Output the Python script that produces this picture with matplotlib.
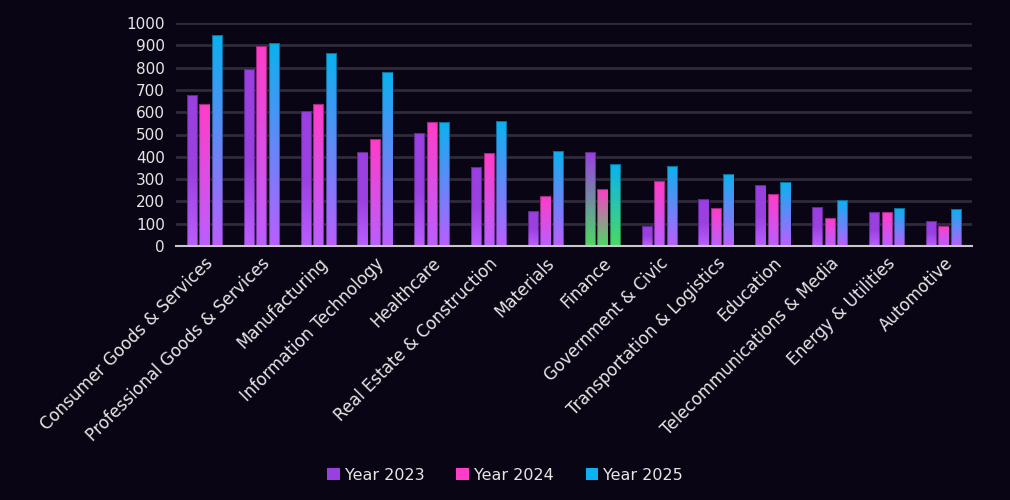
import numpy as np
import matplotlib.pyplot as plt
from matplotlib.colors import LinearSegmentedColormap
from matplotlib.patches import Patch

# data
categories = ["Consumer Goods & Services", "Professional Goods & Services", "Manufacturing",
              "Information Technology", "Healthcare", "Real Estate & Construction", "Materials",
              "Finance", "Government & Civic", "Transportation & Logistics", "Education",
              "Telecommunications & Media", "Energy & Utilities", "Automotive"]
year_2023 = [675, 792, 607, 420, 508, 355, 157, 421, 88, 212, 273, 175, 151, 113]
year_2024 = [637, 897, 637, 478, 557, 415, 224, 256, 291, 169, 232, 126, 151, 90]
year_2025 = [946, 909, 865, 780, 557, 560, 427, 366, 360, 323, 286, 206, 169, 165]
series_names = ["Year 2023", "Year 2024", "Year 2025"]
highlight = "Finance"

bg = "#0a0514"
text_col = "#e6e6e6"
top_colors = ["#9a40e0", "#ff3dc8", "#0ab2ef"]
bottom_color = "#bb5eff"
highlight_bottom = "#4cd964"

fig = plt.figure(figsize=(10.1, 5), dpi=100, facecolor=bg)
ax = fig.add_axes([0.1743, 0.508, 0.788, 0.446])
ax.set_facecolor(bg)

x = np.arange(len(categories))
width = 0.18
offsets = [-0.22, 0.0, 0.22]
grad = np.linspace(0, 1, 256).reshape(-1, 1)

for s, values in enumerate([year_2023, year_2024, year_2025]):
    for i, v in enumerate(values):
        if categories[i] == highlight:
            stops = [highlight_bottom, top_colors[s]]
        elif s == 0:
            stops = [bottom_color, top_colors[s], top_colors[s]]
        else:
            stops = [bottom_color, top_colors[s]]
        cmap = LinearSegmentedColormap.from_list("g", stops)
        bar = ax.bar(x[i] + offsets[s], v, width, facecolor="none",
                     edgecolor=(0, 0, 0, 0.35), linewidth=0.8, zorder=3)[0]
        x0 = x[i] + offsets[s] - width / 2
        im = ax.imshow(grad, cmap=cmap, origin="lower", aspect="auto",
                       extent=[x0, x0 + width, 0, v], zorder=2)
        im.set_clip_path(bar)

ax.set_xlim(-0.5, len(categories) - 0.5)
ax.set_ylim(0, 1000)
ax.set_yticks(np.arange(0, 1001, 100))
ax.yaxis.grid(True, color="#2e2b3b", linewidth=2)
ax.set_axisbelow(True)
for side in ["top", "right", "left"]:
    ax.spines[side].set_visible(False)
ax.spines["bottom"].set_color("#c8c8c8")
ax.spines["bottom"].set_linewidth(1.5)
ax.spines["bottom"].set_zorder(5)

ax.set_xticks(x)
ax.set_xticklabels(categories, rotation=45, ha="right", rotation_mode="anchor")
ax.tick_params(axis="both", length=0, colors=text_col)
ax.tick_params(axis="x", pad=6, labelsize=12)
ax.tick_params(axis="y", pad=8, labelsize=11)

handles = [Patch(facecolor=c, edgecolor="none") for c in top_colors]
leg = fig.legend(handles, series_names, loc="center", bbox_to_anchor=(0.5, 0.05), ncol=3,
                 frameon=False, fontsize=11.5, handlelength=0.8, handleheight=0.8,
                 handletextpad=0.3, columnspacing=2.0)
for t in leg.get_texts():
    t.set_color(text_col)

fig.savefig("out.png", dpi=100, facecolor=bg)
